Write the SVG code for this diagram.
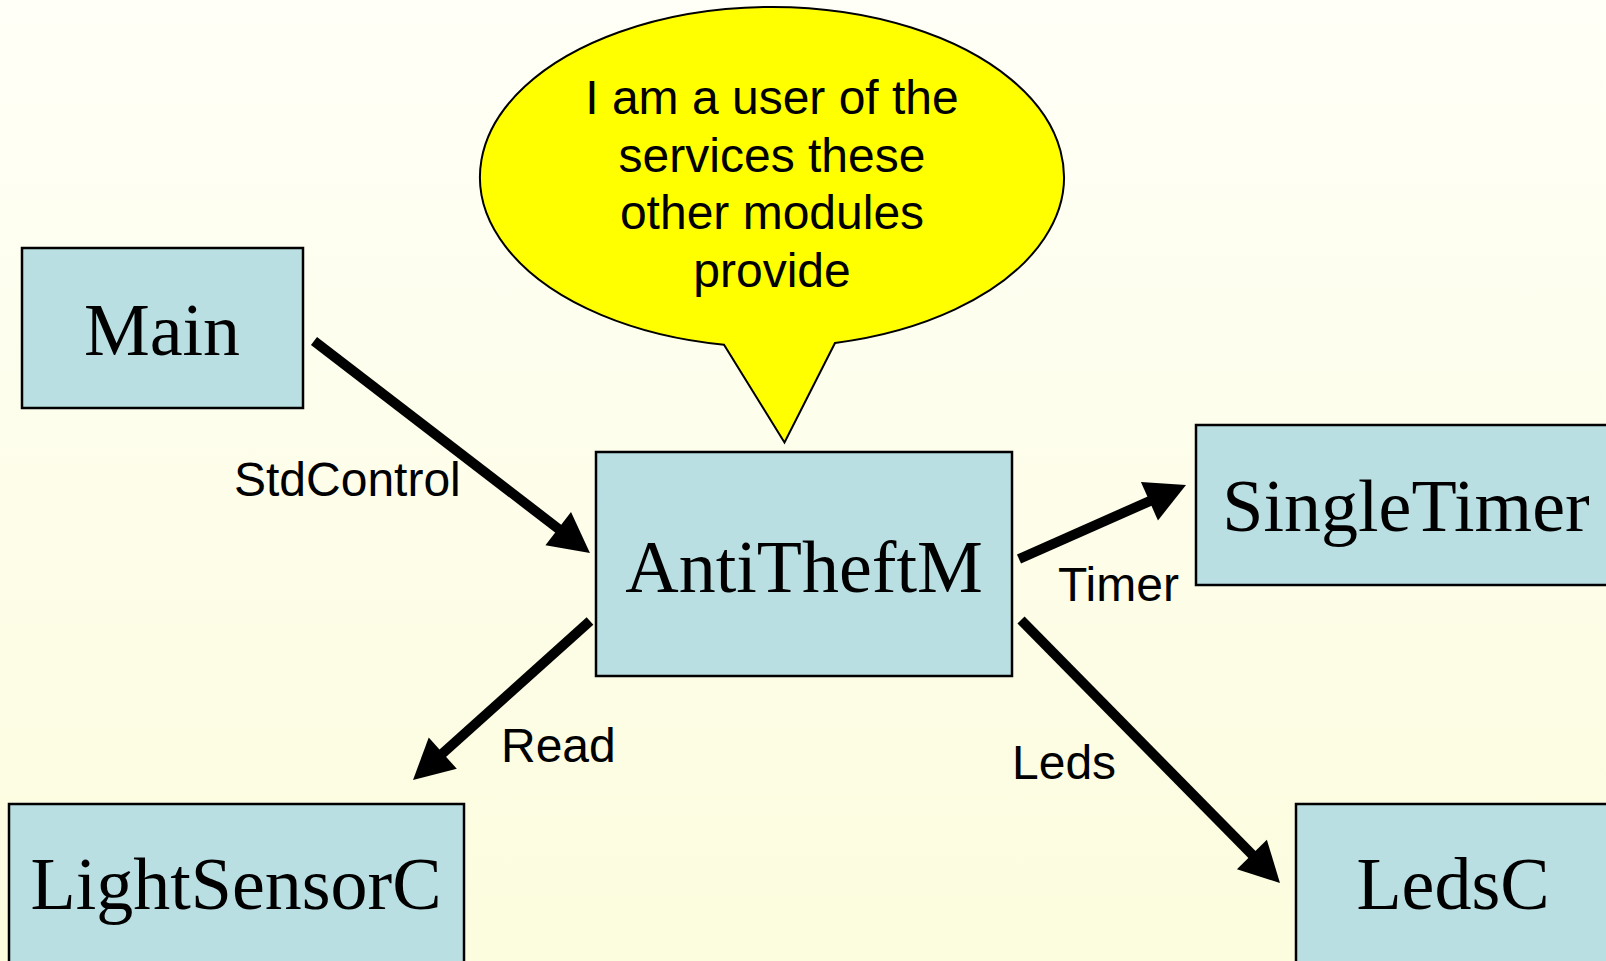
<svg xmlns="http://www.w3.org/2000/svg" width="1606" height="961" viewBox="0 0 1606 961">
  <defs>
    <linearGradient id="bg" x1="0" y1="0" x2="0" y2="1">
      <stop offset="0" stop-color="#FFFFF7"/>
      <stop offset="1" stop-color="#FCFCDE"/>
    </linearGradient>
    <marker id="head" markerUnits="userSpaceOnUse" markerWidth="50" markerHeight="50" viewBox="-10 -25 50 50" refX="0" refY="0" orient="auto">
      <path d="M-4,-21 L36,0 L-4,21 Z" fill="#000"/>
    </marker>
  </defs>
  <style>
    .box { fill: #B9DFE3; stroke: #000; stroke-width: 2.5; }
    .name { font-family: "Liberation Serif", "Times New Roman", serif; font-size: 74px; fill: #000; text-anchor: middle; }
    .label { font-family: "Liberation Sans", Arial, sans-serif; font-size: 48px; fill: #000; }
    .note { font-family: "Liberation Sans", Arial, sans-serif; font-size: 48px; fill: #000; text-anchor: middle; }
    .wire { stroke: #000; stroke-width: 10; fill: none; marker-end: url(#head); }
  </style>

  <rect x="0" y="0" width="1606" height="961" fill="url(#bg)"/>

  <!-- callout bubble: ellipse centred at (772,177), rx 292, ry 170, tail pointing down -->
  <g id="callout">
    <path d="M724,344.7 A292,170 0 1 1 835,343 L784.5,442.5 Z" fill="#FFFF00" stroke="#000" stroke-width="2"/>
    <text class="note" x="772" y="114">I am a user of the</text>
    <text class="note" x="772" y="172">services these</text>
    <text class="note" x="772" y="229">other modules</text>
    <text class="note" x="772" y="287">provide</text>
  </g>

  <!-- components -->
  <g id="main">
    <rect class="box" x="22" y="248" width="281" height="160"/>
    <text class="name" x="162" y="355">Main</text>
  </g>
  <g id="antitheftm">
    <rect class="box" x="596" y="452" width="416" height="224"/>
    <text class="name" x="804" y="592">AntiTheftM</text>
  </g>
  <g id="singletimer">
    <rect class="box" x="1196" y="425" width="500" height="160"/>
    <text class="name" x="1406" y="531">SingleTimer</text>
  </g>
  <g id="lightsensorc">
    <rect class="box" x="9" y="804" width="455" height="220"/>
    <text class="name" x="236" y="909">LightSensorC</text>
  </g>
  <g id="ledsc">
    <rect class="box" x="1296" y="804" width="400" height="220"/>
    <text class="name" x="1453" y="909">LedsC</text>
  </g>

  <!-- interface wiring -->
  <g id="connectors">
    <line class="wire" x1="314" y1="341" x2="561.4" y2="531.1"/>
    <line class="wire" x1="1019" y1="559" x2="1153.1" y2="499.6"/>
    <line class="wire" x1="590" y1="621" x2="439.8" y2="755.9"/>
    <line class="wire" x1="1021" y1="620" x2="1254.7" y2="857.3"/>
    <text class="label" x="234" y="496">StdControl</text>
    <text class="label" x="1058" y="601">Timer</text>
    <text class="label" x="501" y="762">Read</text>
    <text class="label" x="1012" y="779">Leds</text>
  </g>
</svg>
